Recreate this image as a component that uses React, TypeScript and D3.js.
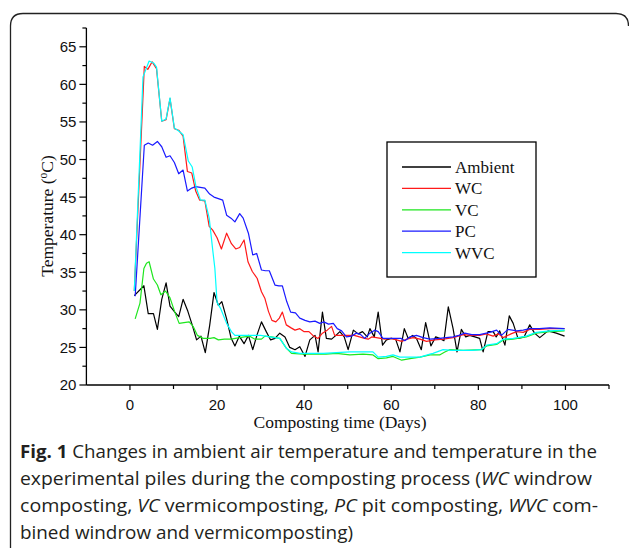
import React from "react";
import * as d3 from "d3";

// ---- data (day, °C) ----
const ambient: [number, number][] = [
  [1, 31.9], [3.2, 33.2], [4.2, 29.5], [5.4, 29.5], [6.3, 27.4], [7.3, 31.4], [8.3, 33.6], [9.2, 30.5], [10.3, 29.7],
  [11.2, 29.1], [12.2, 31.4], [13.3, 29.8], [14.4, 27.8], [15.3, 26], [16.3, 26.5], [17.3, 24.3], [18.3, 27.9],
  [19.3, 32.3], [20.3, 30.6], [21.1, 31.1], [22.2, 28.8], [23.2, 26.3], [24.1, 25.2], [25.1, 26.5], [26.2, 25.5],
  [27.2, 26.6], [28.2, 24.7], [29.2, 26.7], [30.2, 28.4], [31.3, 27.1], [32.3, 26], [33.3, 26.2], [34.4, 26.9],
  [35.6, 26.4], [36.7, 25], [37.9, 24.7], [39, 25.1], [40.2, 23.8], [41.3, 26], [42.5, 26.6], [43.2, 24.4],
  [44.2, 29.7], [45.1, 26.2], [46.3, 26.1], [47.3, 26.6], [48.2, 27.1], [49.2, 26.4], [50.1, 24.7], [51.3, 27.3],
  [52.4, 26.8], [53.4, 27.1], [54.5, 26.4], [55.1, 27.5], [56.1, 26.4], [57, 29.7], [58, 25.3], [58.9, 26],
  [60, 26.2], [61, 26.1], [62, 24.4], [63, 27.5], [63.9, 26.2], [64.9, 26.6], [65.8, 26.2], [66.9, 24.7],
  [67.9, 28.3], [69.1, 25.2], [70.2, 26.4], [71.1, 26.2], [72.1, 25.9], [73.1, 30.4], [74.2, 27.5], [75.1, 24.4],
  [76.1, 27.4], [77.1, 26.4], [78, 26.6], [79.2, 26.4], [80.3, 26.2], [81.1, 24.4], [82.2, 27.1], [83.4, 27.1],
  [84.1, 26.4], [84.9, 27.2], [86.1, 25.3], [87.1, 29.2], [88, 28.2], [89.1, 26.2], [90.5, 26.4], [91.8, 28],
  [92.9, 26.9], [94.1, 26.3], [96, 27.2], [97.9, 26.9], [99.8, 26.5],
];

const wc: [number, number][] = [
  [1, 32.5], [3.3, 62.4], [4.1, 62], [5.1, 63], [6.1, 62.1], [7.3, 55.1], [8.3, 55.3], [9.2, 58.1], [10.2, 54.1],
  [11.2, 53.9], [12.2, 53.1], [13.2, 48.4], [14.2, 48.2], [15.1, 45.8], [16, 44.6], [17.2, 44.5], [18.2, 41.1],
  [19, 40.6], [20, 39.6], [21, 38.1], [22.2, 40.2], [23.3, 38.8], [24.3, 38.1], [25.2, 38.3], [26.2, 39.3],
  [27.1, 36.4], [28.1, 35.1], [29.2, 34.2], [30.2, 32.4], [31, 31.5], [31.8, 29.8], [32.6, 28.6], [33.5, 28.4],
  [34.3, 28.9], [35, 29.7], [35.9, 28], [37, 27.6], [37.9, 27.3], [39, 27.5], [40, 27.1], [41.1, 27.1], [42, 26.6],
  [43.2, 26.2], [44.2, 26.9], [45.3, 27.3], [46.3, 27.8], [47, 26.6], [49.3, 26.6], [51.5, 26.6], [53.9, 26.2],
  [54.7, 26.1], [55.5, 26.4], [56.6, 26.3], [58.5, 26.1], [60, 26.2], [61.2, 26], [62.4, 25.8], [63.6, 26.1],
  [65, 26.3], [66.6, 26.1], [68.1, 25.8], [70, 26], [72, 26.1], [74.2, 26.3], [76.5, 26.7], [78.5, 26.6],
  [80.3, 26.6], [81.8, 26.8], [83.4, 26.5], [84.6, 26.8], [85.7, 26.3], [87.5, 26.8], [88.8, 27.1], [90.3, 27],
  [91.8, 27.4], [94, 27.4], [96.4, 27.5], [99.8, 27.5],
];

const vc: [number, number][] = [
  [1.2, 28.8], [2.3, 30.9], [3.2, 35.5], [3.8, 36.2], [4.4, 36.4], [5.4, 34.1], [6.3, 33.3], [7.1, 32], [8.2, 32.5],
  [9.2, 31.6], [10.3, 29.7], [11.3, 28.2], [12.4, 28.3], [13.6, 28.4], [14.5, 27.8], [15.5, 26.6], [16.8, 26.2],
  [18.4, 26.2], [19.3, 26.3], [20.3, 26], [21.7, 26.1], [23.2, 26.1], [25.2, 26.3], [26.3, 26.4], [27.5, 26.5],
  [28.7, 26.1], [30.2, 26.1], [31, 26.5], [32.5, 26.4], [34.4, 26.2], [35.9, 24.9], [37.1, 24.2], [39.8, 24.1],
  [42.5, 24.1], [45, 24.1], [47.4, 24.2], [50.5, 24], [53.5, 24.1], [55.8, 24], [57, 23.5], [58.9, 23.6],
  [60.4, 23.8], [62.4, 23.3], [64.3, 23.5], [66.6, 23.7], [68.9, 24], [71.1, 24], [72.3, 24.4], [73.4, 24.7],
  [76.5, 24.6], [80.7, 24.7], [81.9, 25.2], [84.2, 25.4], [85.7, 26], [88, 26.1], [91, 26.4], [93.3, 26.9],
  [96.4, 27.1], [99.8, 27.2],
];

const pc: [number, number][] = [
  [1.2, 31.8], [3.3, 51.9], [4.2, 52.2], [5.2, 51.9], [6.3, 52.4], [7.3, 51.7], [8.3, 50.3], [9.2, 50.5],
  [10.2, 49.6], [11.2, 48.1], [12.2, 48.6], [13.2, 45.8], [14.2, 46.2], [15.1, 46.4], [17.2, 46.2], [18.3, 45.4],
  [19.3, 45], [20.3, 44.8], [21.3, 44.6], [22.2, 42.6], [23.2, 42.2], [24.1, 41.7], [25.2, 42.8], [26, 42.2],
  [27.2, 40.2], [28.2, 37.3], [29.1, 37.5], [30.2, 35.3], [31.1, 35.2], [32, 35.2], [33.3, 33.3], [34.2, 33.2],
  [35, 33.2], [36, 31.1], [36.9, 29.7], [38, 29.6], [39, 28.9], [40.2, 28.6], [41.3, 28.4], [42.5, 28.5],
  [43.6, 28.2], [44.5, 28.4], [45.6, 28.1], [46.7, 28.2], [47.6, 27.5], [48.6, 27.2], [49.7, 26.4], [50.8, 26.5],
  [52, 26.9], [53, 26.7], [53.9, 26.2], [55.1, 26.9], [56.2, 27.3], [57, 27.1], [58.1, 26.2], [59.6, 26.2],
  [61.2, 26.2], [62.3, 26.2], [63.1, 25.9], [64.3, 26.4], [65.8, 26.6], [67.3, 26.3], [68.9, 26.1], [71, 26.2],
  [72.6, 26.3], [74.2, 26.4], [75.5, 26.6], [76.9, 26.9], [78.5, 26.7], [80.3, 26.7], [82.6, 27], [84.2, 27.3],
  [85.3, 26.6], [86.8, 27.4], [88.8, 27.2], [90.3, 27.3], [91.8, 27.5], [94, 27.5], [96.4, 27.6], [99.8, 27.5],
];

const wvc: [number, number][] = [
  [1, 32.5], [3, 61], [4.4, 63.1], [5.5, 62.8], [6.1, 62.3], [7.3, 55.1], [8.3, 55.4], [9.2, 58.2], [10.2, 54.2],
  [11.2, 53.8], [12.2, 53.3], [13.4, 49.8], [14.3, 49], [15.2, 46.3], [16.2, 44.6], [17.2, 44.6], [18.2, 42.2],
  [19, 38], [19.5, 35.5], [20, 31], [20.8, 30.2], [22.2, 28.2], [23.3, 27.1], [24.1, 26.6], [26, 26.6], [28, 26.6],
  [30, 26.6], [32.1, 26.4], [34.4, 26.2], [35.9, 24.9], [37.1, 24.4], [39, 24.2], [41.5, 24.2], [44.4, 24.2],
  [47.4, 24.3], [50.5, 24.4], [53.5, 24.4], [55.8, 24.4], [57, 23.7], [58.9, 23.8], [60.4, 24], [62, 23.7],
  [64.3, 23.7], [66.6, 23.7], [68.9, 24.1], [69.6, 24.2], [71.9, 24.7], [74, 24.6], [76.5, 24.6], [78.5, 24.6],
  [80.7, 24.7], [81.9, 25.3], [84.2, 25.5], [85.7, 26.1], [88, 26.2], [91, 26.5], [93.3, 27], [96.4, 27.2],
  [99.8, 27.3],
];

const seriesNames = ["Ambient", "WC", "VC", "PC", "WVC"];
const seriesColors = ["#000000", "#ff1a1a", "#1ee61e", "#1a1aff", "#00ffff"];
const seriesData = [ambient, wc, vc, pc, wvc];

const xMajorTicks = [0, 20, 40, 60, 80, 100];
const xMinorTicks = [10, 30, 50, 70, 90, 110];
const yMajorTicks = [20, 25, 30, 35, 40, 45, 50, 55, 60, 65];
const yMinorTicks = [22.5, 27.5, 32.5, 37.5, 42.5, 47.5, 52.5, 57.5, 62.5, 67.5];

const W = 629;
const H = 550;

export default function App() {
  const x = d3.scaleLinear().domain([-10, 110]).range([86.4, 609]);
  const y = d3.scaleLinear().domain([20, 67.5]).range([385, 28]);
  const line = d3
    .line<[number, number]>()
    .x((d) => x(d[0]))
    .y((d) => y(d[1]));

  const tickFont = "'Liberation Sans', Arial, sans-serif";
  const serif = "'Liberation Serif', 'Times New Roman', serif";
  const capFont = "'Open Sans', 'Noto Sans', sans-serif";
  const capColor = "#231f20";
  const x0 = x(-10);
  const y0 = y(20);

  const legX = 387;
  const legY = 142;
  const legRow = 21.4;

  return (
    <svg
      width={W}
      height={H}
      viewBox={`0 0 ${W} ${H}`}
      style={{ position: "absolute", left: 0, top: 0, background: "#fff" }}
    >
      {/* rounded frame */}
      <path
        d="M10.5,548 L10.5,26 Q10.5,13.5 23,13.5 L616,13.5 Q628.5,13.5 628.5,26"
        fill="none"
        stroke="#222"
        strokeWidth={1.3}
      />

      {/* series */}
      {seriesData.map((s, i) => (
        <path key={seriesNames[i]} d={line(s) || ""} fill="none" stroke={seriesColors[i]} strokeWidth={1.2} strokeLinejoin="round" />
      ))}

      {/* axes */}
      <line x1={x0} x2={x0} y1={y(67.5)} y2={y0} stroke="#000" strokeWidth={1.3} />
      <line x1={x0} x2={x(110)} y1={y0} y2={y0} stroke="#000" strokeWidth={1.3} />
      {yMajorTicks.map((t) => (
        <g key={"ym" + t}>
          <line x1={x0 - 7} x2={x0} y1={y(t)} y2={y(t)} stroke="#000" strokeWidth={1.2} />
          <text x={x0 - 10} y={y(t)} dy="0.36em" textAnchor="end" fontFamily={tickFont} fontSize={15} fill="#111">
            {t}
          </text>
        </g>
      ))}
      {yMinorTicks.map((t) => (
        <line key={"yn" + t} x1={x0 - 4} x2={x0} y1={y(t)} y2={y(t)} stroke="#000" strokeWidth={1.2} />
      ))}
      {xMajorTicks.map((t) => (
        <g key={"xm" + t}>
          <line x1={x(t)} x2={x(t)} y1={y0} y2={y0 + 5} stroke="#000" strokeWidth={1.2} />
          <text x={x(t)} y={y0 + 25} textAnchor="middle" fontFamily={tickFont} fontSize={15} fill="#111">
            {t}
          </text>
        </g>
      ))}
      {xMinorTicks.map((t) => (
        <line key={"xn" + t} x1={x(t)} x2={x(t)} y1={y0} y2={y0 + 4} stroke="#000" strokeWidth={1.2} />
      ))}

      {/* axis titles */}
      <text x={340} y={428} textAnchor="middle" fontFamily={serif} fontSize={17.5} fill="#111">
        Composting time (Days)
      </text>
      <text
        transform={`translate(53,${216}) rotate(-90)`}
        textAnchor="middle"
        fontFamily={serif}
        fontSize={17.5}
        fill="#111"
      >
        Temperature (<tspan fontSize={11.5} dy={-6.5}>o</tspan>
        <tspan dy={6.5}>C)</tspan>
      </text>

      {/* legend */}
      <rect x={legX} y={legY} width={149} height={135} fill="#fff" stroke="#000" strokeWidth={1.3} />
      {seriesNames.map((n, i) => (
        <g key={"lg" + n}>
          <line
            x1={legX + 15}
            x2={legX + 64}
            y1={legY + 25 + i * legRow}
            y2={legY + 25 + i * legRow}
            stroke={seriesColors[i]}
            strokeWidth={1.3}
          />
          <text x={legX + 68} y={legY + 25 + i * legRow} dy="0.35em" fontFamily={serif} fontSize={17} fill="#111">
            {n}
          </text>
        </g>
      ))}

      {/* caption */}
      <g fontFamily={capFont} fontSize={18} fill={capColor}>
        <text x={20} y={458} textLength={577} lengthAdjust="spacingAndGlyphs">
          <tspan fontWeight="bold">Fig. 1</tspan>
          <tspan>{"  Changes in ambient air temperature and temperature in the"}</tspan>
        </text>
        <text x={20} y={485} textLength={572} lengthAdjust="spacingAndGlyphs">
          <tspan>experimental piles during the composting process (</tspan>
          <tspan fontStyle="italic">WC</tspan>
          <tspan> windrow</tspan>
        </text>
        <text x={20} y={512} textLength={578} lengthAdjust="spacingAndGlyphs">
          <tspan>composting, </tspan>
          <tspan fontStyle="italic">VC</tspan>
          <tspan> vermicomposting, </tspan>
          <tspan fontStyle="italic">PC</tspan>
          <tspan> pit composting, </tspan>
          <tspan fontStyle="italic">WVC</tspan>
          <tspan> com-</tspan>
        </text>
        <text x={20} y={539} textLength={333} lengthAdjust="spacingAndGlyphs">
          bined windrow and vermicomposting)
        </text>
      </g>
    </svg>
  );
}
